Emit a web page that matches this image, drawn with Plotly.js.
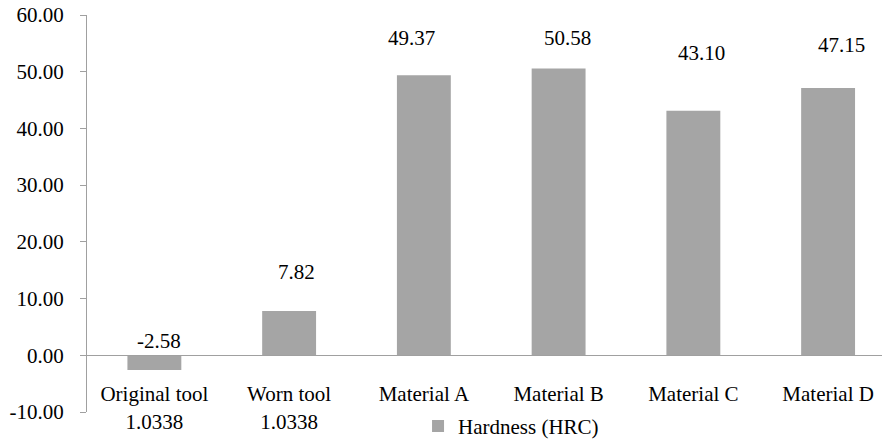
<!DOCTYPE html>
<html>
<head>
<meta charset="utf-8">
<script src="https://cdn.plot.ly/plotly-3.0.1.min.js"></script>
<style>html,body{margin:0;padding:0;background:#fff;}</style>
</head>
<body>
<div id="chart" style="width:883px;height:441px;"></div>
<script>
const categories = ["Original tool<br>1.0338", "Worn tool<br>1.0338", "Material A", "Material B", "Material C", "Material D"];
const hardness = [-2.58, 7.82, 49.37, 50.58, 43.10, 47.15];
const valueLabels = ["-2.58", "7.82", "49.37", "50.58", "43.10", "47.15"];
const yTickVals = [-10, 0, 10, 20, 30, 40, 50, 60];
const yTickText = ["-10.00", "0.00", "10.00", "20.00", "30.00", "40.00", "50.00", "60.00"];
const seriesName = "Hardness (HRC)";

// label placement offsets (pixels), styling only
const labelXShift = [5, 7, -12, 9, 8, 13];
const labelYShift = [29, 39, 37, 30, 58, 43];

const font = {family: "'Times New Roman', 'Liberation Serif', Times, serif", size: 21, color: "#000"};
const axisColor = "#a0a0a0";

const trace = {
  type: "bar",
  x: categories,
  y: hardness,
  name: seriesName,
  marker: {color: "#a5a5a5"},
  width: 0.4,
  hoverinfo: "none"
};

const annotations = categories.map((c, i) => ({
  x: c, y: hardness[i], xref: "x", yref: "y",
  text: valueLabels[i], showarrow: false,
  xanchor: "center", yanchor: "middle",
  xshift: labelXShift[i], yshift: labelYShift[i],
  font: font
}));

const layout = {
  width: 883, height: 441,
  margin: {l: 87, r: 1, t: 15, b: 29, pad: 0, autoexpand: false},
  paper_bgcolor: "#fff", plot_bgcolor: "#fff",
  font: font,
  showlegend: true,
  legend: {
    orientation: "h", xref: "paper", yref: "paper",
    x: 0.4164, xanchor: "left", y: -0.036, yanchor: "middle",
    font: font, itemwidth: 30, tracegroupgap: 0
  },
  xaxis: {
    type: "category",
    range: [-0.5, 5.4],
    anchor: "free", position: 10/70,
    showline: true, linecolor: axisColor, linewidth: 1,
    showgrid: false, zeroline: false, ticks: "",
    tickfont: font, ticklabelstandoff: 20, fixedrange: true, automargin: false
  },
  yaxis: {
    range: [-10, 60],
    tickvals: yTickVals, ticktext: yTickText,
    showline: true, linecolor: axisColor, linewidth: 1,
    ticks: "outside", ticklen: 6, tickcolor: axisColor, tickwidth: 1,
    showgrid: false, zeroline: false,
    tickfont: font, ticklabelstandoff: 12, fixedrange: true, automargin: false
  },
  annotations: annotations
};

Plotly.newPlot("chart", [trace], layout, {displayModeBar: false, staticPlot: true});
</script>
</body>
</html>
